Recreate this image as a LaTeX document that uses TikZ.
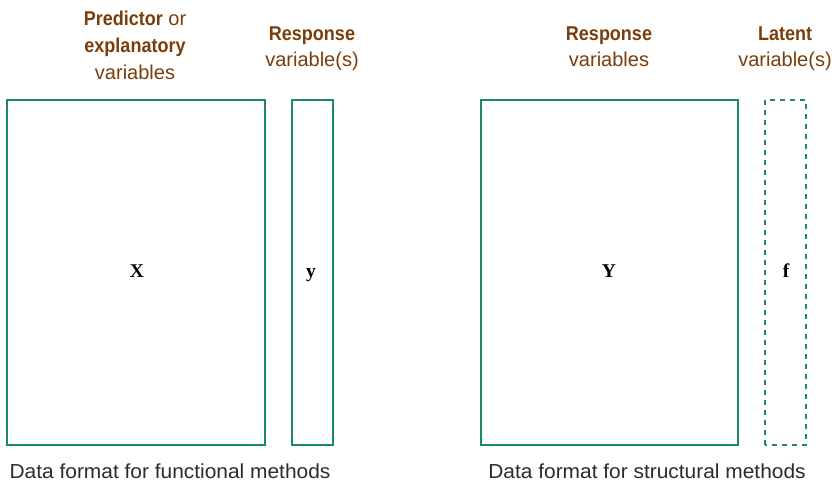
\documentclass[tikz,border=0pt]{standalone}
\usepackage{fontspec}
\setmainfont{Liberation Sans}[FakeStretch=1.0, BoldFeatures={FakeStretch=0.9}]
\newfontfamily\capfont{Liberation Sans}[FakeStretch=1.03]
\newfontfamily\labfont{Liberation Serif}
\definecolor{boxgreen}{HTML}{1E8C62}
\definecolor{headbrown}{HTML}{7A3E0C}
\definecolor{capgray}{HTML}{2B2B2B}
\tikzset{
  mbox/.style={draw=boxgreen, line width=2.6pt},
  dbox/.style={draw=boxgreen, line width=2.6pt, dash pattern=on 5pt off 5pt},
  head/.style={text=headbrown, font=\fontsize{20}{24}\selectfont, inner sep=0pt, anchor=base},
  captext/.style={text=capgray, font=\capfont\fontsize{20.3}{22}\selectfont, inner sep=0pt, anchor=base},
  mlab/.style={font=\labfont\bfseries\fontsize{19.5}{22}\selectfont, inner sep=0pt, anchor=base},
}
\begin{document}
\begin{tikzpicture}[x=1pt,y=1pt]
\useasboundingbox (0,0) rectangle (839,482);
% boxes
\draw[mbox] (7,37) rectangle (265,382);
\draw[mbox] (292,37) rectangle (333,382);
\draw[mbox] (481,37) rectangle (738,382);
\draw[dbox] (765,37) rectangle (806,382);
% matrix labels
\node[mlab] (X) at (137,204) {X};
\node[mlab] (y) at (311,204) {y};
\node[mlab] (Y) at (609,204) {Y};
\node[mlab] (f) at (786,204) {f};
% headings
\node[head] (h1a) at (135,456) {\textbf{Predictor} or};
\node[head] (h1b) at (135,429) {\textbf{explanatory}};
\node[head] (h1c) at (135,402) {variables};
\node[head] (h2a) at (312,441) {\textbf{Response}};
\node[head] (h2b) at (312,415) {variable(s)};
\node[head] (h3a) at (609,441) {\textbf{Response}};
\node[head] (h3b) at (609,415) {variables};
\node[head] (h4a) at (785,441) {\textbf{Latent}};
\node[head] (h4b) at (785,415) {variable(s)};
% captions
\node[captext] (c1) at (170,3.5) {Data format for functional methods};
\node[captext] (c2) at (647,3.5) {Data format for structural methods};
\end{tikzpicture}
\end{document}
